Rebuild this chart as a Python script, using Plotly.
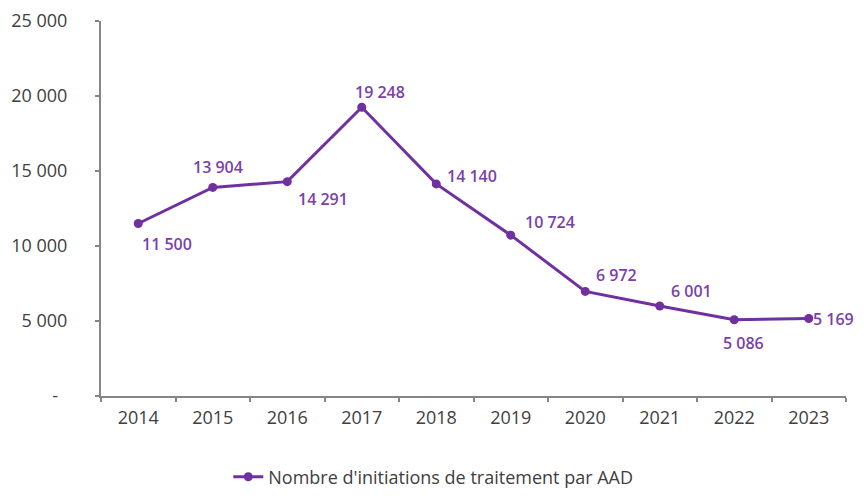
import plotly.graph_objects as go

years = ["2014", "2015", "2016", "2017", "2018", "2019", "2020", "2021", "2022", "2023"]
initiations = [11500, 13904, 14291, 19248, 14140, 10724, 6972, 6001, 5086, 5169]

y_ticks = [0, 5000, 10000, 15000, 20000, 25000]
y_tick_labels = ["-\u00a0\u00a0", "5 000", "10 000", "15 000", "20 000", "25 000"]

# pixel offsets of each data label from its point (x right, y up)
label_dx = [29, 5, 36, 18, 36, 39, 31, 32, 9, 25]
label_dy = [-20, 20, -17, 15, 8, 13, 16, 15, -23, -1]

purple = "#7030A0"
grey_txt = "#404040"
axis_col = "#868686"

fig = go.Figure()
fig.add_trace(go.Scatter(
    x=years,
    y=initiations,
    mode="lines+markers",
    name="Nombre d'initiations de traitement par AAD",
    line=dict(color=purple, width=3),
    marker=dict(color=purple, size=9),
    cliponaxis=False,
))

# data labels, space as thousands separator (x as category index)
for i, (v, dx, dy) in enumerate(zip(initiations, label_dx, label_dy)):
    fig.add_annotation(
        x=i, y=v, xref="x", yref="y",
        text=f"{v:,}".replace(",", " "),
        showarrow=False,
        xshift=dx, yshift=dy,
        font=dict(color="#7B3FAA", size=16, family="Open Sans", weight=600),
    )

fig.update_layout(
    width=856,
    height=480,
    margin=dict(l=93, r=18, t=13, b=92, autoexpand=False),
    paper_bgcolor="white",
    plot_bgcolor="white",
    font=dict(family="Open Sans", size=18, color=grey_txt),
    showlegend=True,
    legend=dict(
        orientation="h",
        x=0.446, xanchor="center",
        y=-0.216, yanchor="middle",
        font=dict(size=18, color=grey_txt),
    ),
)
fig.update_xaxes(
    type="category",
    range=[-0.5, 9.5],
    showline=True, linecolor=axis_col, linewidth=2,
    ticks="outside", tickson="boundaries", ticklen=4, tickcolor=axis_col, tickwidth=2,
    showgrid=False, zeroline=False,
    ticklabelstandoff=4,
)
fig.update_yaxes(
    range=[0, 25000],
    tickvals=y_ticks, ticktext=y_tick_labels,
    showline=True, linecolor=axis_col, linewidth=2,
    ticks="outside", ticklen=4, tickcolor=axis_col, tickwidth=2,
    showgrid=False, zeroline=False,
    ticklabelstandoff=24,
)

fig.write_html("out.html")
